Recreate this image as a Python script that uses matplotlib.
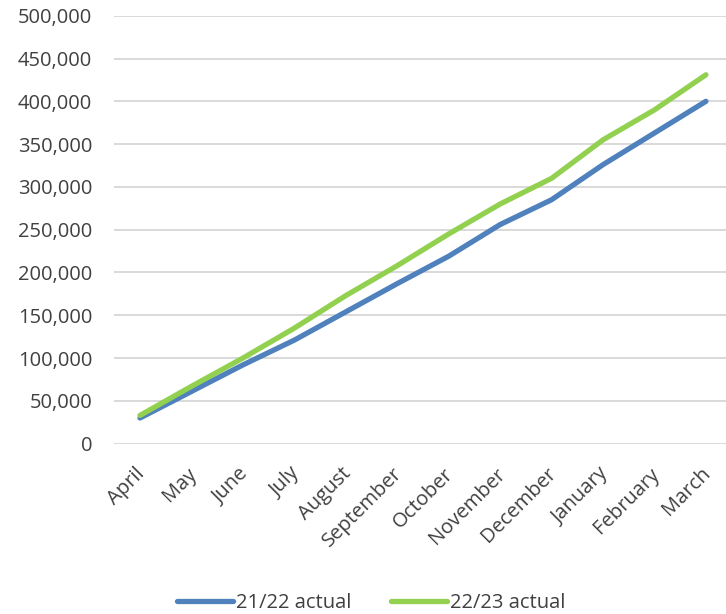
import matplotlib
matplotlib.use("Agg")
import matplotlib.pyplot as plt
from matplotlib.ticker import FuncFormatter, MultipleLocator
from matplotlib.transforms import ScaledTranslation

plt.rcParams['font.family'] = ['Open Sans', 'DejaVu Sans']

months = ['April', 'May', 'June', 'July', 'August', 'September', 'October',
          'November', 'December', 'January', 'February', 'March']
actual_2122 = [30000, 61000, 92000, 121000, 154000, 187000, 219000,
               256000, 285000, 326000, 363000, 400000]
actual_2223 = [33000, 67000, 100000, 135000, 173000, 208000, 245000,
               280000, 310000, 355000, 390000, 431000]

text_col = '#404040'

fig = plt.figure(figsize=(7.26, 6.14), dpi=100)
ax = fig.add_axes([0.1574, 0.2774, 0.8504, 0.697])

x = range(len(months))
l1, = ax.plot(x, actual_2122, color='#4F81BD', lw=3.8, solid_capstyle='round',
              label='21/22 actual', zorder=3)
l2, = ax.plot(x, actual_2223, color='#92D050', lw=3.8, solid_capstyle='round',
              label='22/23 actual', zorder=3)

ax.set_xlim(-0.5, len(months) - 0.5)
ax.set_ylim(0, 500000)
ax.yaxis.set_major_locator(MultipleLocator(50000))
ax.yaxis.set_major_formatter(FuncFormatter(lambda v, p: f'{int(v):,}'))
ax.grid(axis='y', color='#d9d9d9', lw=1.4)
ax.set_axisbelow(True)
for s in ax.spines.values():
    s.set_visible(False)
ax.tick_params(axis='both', length=0, labelsize=14.5, colors=text_col)
ax.tick_params(axis='y', pad=16)
ax.tick_params(axis='x', pad=14.5)

ax.set_xticks(list(x))
ax.set_xticklabels(months, rotation=45, ha='right', rotation_mode='anchor')
# nudge the slanted month names a little to the left
shift = ScaledTranslation(-5 / 100, 0, fig.dpi_scale_trans)
for lbl in ax.get_xticklabels():
    lbl.set_transform(lbl.get_transform() + shift)

fig.legend(handles=[l1, l2], loc='center', bbox_to_anchor=(0.511, 0.018),
           ncol=2, frameon=False, fontsize=14.5, handlelength=2.78,
           handletextpad=0.15, columnspacing=1.94, labelcolor=text_col)

fig.savefig('out.png', dpi=100)
